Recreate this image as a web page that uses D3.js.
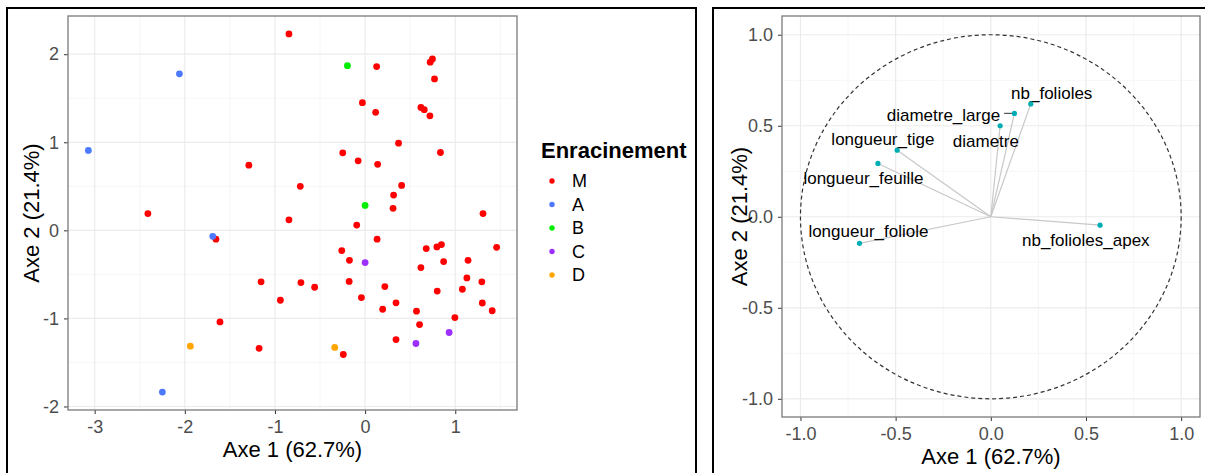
<!DOCTYPE html>
<html>
<head>
<meta charset="utf-8">
<script src="https://cdn.jsdelivr.net/npm/d3@7"></script>
<style>
  body { margin: 0; background: #fff; }
  text { font-family: "Liberation Sans", Arial, sans-serif; }
</style>
</head>
<body>
<svg id="chart" width="1205" height="473"></svg>
<script>
// --- data ---
// individuals: coordinates on axes 1 and 2, with their rooting class
const groupM_x = [-0.845, 0.128, -0.03, 0.117, 0.371, -0.248, -0.077, 0.139, -1.29, -0.719,
  0.405, 0.316, 0.31, -2.41, -0.845, 1.308, -0.093, -1.655, 0.133, -0.259,
  -0.174, 0.747, 0.722, 0.77, 0.619, 0.656, 0.719, 0.836, 0.678, 0.796,
  0.847, 1.459, 0.871, 0.619, 1.142, 1.129, 1.295, 1.079, 0.80, -0.177,
  0.219, -0.041, 0.343, 0.195, 0.57, 1.30, 1.41, 0.996, 0.604, 0.343,
  -0.242, -1.154, -0.712, -0.56, -0.94, -1.61, -1.176];
const groupM_y = [2.23, 1.86, 1.45, 1.34, 0.99, 0.88, 0.79, 0.75, 0.74, 0.50,
  0.51, 0.40, 0.25, 0.19, 0.12, 0.19, 0.06, -0.10, -0.10, -0.23,
  -0.34, 1.947, 1.91, 1.72, 1.395, 1.37, 1.30, 0.884, -0.207, -0.188,
  -0.162, -0.193, -0.355, -0.423, -0.34, -0.54, -0.585, -0.669, -0.69, -0.58,
  -0.638, -0.763, -0.823, -0.896, -0.918, -0.825, -0.913, -0.99, -1.07, -1.24,
  -1.41, -0.585, -0.593, -0.646, -0.794, -1.04, -1.34];
const groupA_x = [-2.06, -3.07, -1.69, -2.249];
const groupA_y = [1.777, 0.907, -0.068, -1.837];
const groupB_x = [-0.196, 0.0];
const groupB_y = [1.87, 0.283];
const groupC_x = [0.0, 0.932, 0.564];
const groupC_y = [-0.366, -1.16, -1.285];
const groupD_x = [-1.939, -0.337];
const groupD_y = [-1.315, -1.33];

const groups = ["M", "A", "B", "C", "D"];
const groupColors = ["#ff0000", "#4d79ff", "#00ee00", "#9b30ff", "#ffa500"];

// variables: correlation circle
const varNames = ["nb_folioles", "diametre_large", "diametre", "longueur_tige",
  "longueur_feuille", "longueur_foliole", "nb_folioles_apex"];
const varX = [0.21, 0.124, 0.049, -0.492, -0.593, -0.69, 0.574];
const varY = [0.62, 0.568, 0.50, 0.366, 0.293, -0.146, -0.046];
// where the repelled labels ended up (data units)
const labelX = [0.32, -0.249, -0.026, -0.567, -0.669, -0.643, 0.499];
const labelY = [0.68, 0.559, 0.418, 0.427, 0.211, -0.079, -0.128];

const xTitle = "Axe 1 (62.7%)";
const yTitle = "Axe 2 (21.4%)";
const legendTitle = "Enracinement";

// --- drawing ---
const svg = d3.select("#chart");
svg.append("rect").attr("width", 1205).attr("height", 473).attr("fill", "#fff");

// outer black frames of the two figures
svg.append("rect").attr("x", 7).attr("y", 8).attr("width", 689).attr("height", 490)
   .attr("fill", "none").attr("stroke", "#000").attr("stroke-width", 2);
svg.append("rect").attr("x", 713).attr("y", 8).attr("width", 520).attr("height", 490)
   .attr("fill", "none").attr("stroke", "#000").attr("stroke-width", 2);

// draws grid, border, axes for one panel and returns the scales
function makePanel(box, xDom, yDom, xMajor, yMajor, xMinor, yMinor, fmt) {
  const x = d3.scaleLinear().domain(xDom).range([box.left, box.right]);
  const y = d3.scaleLinear().domain(yDom).range([box.bottom, box.top]);
  const g = svg.append("g");

  g.append("g").selectAll("line").data(xMinor).enter().append("line")
    .attr("x1", d => x(d)).attr("x2", d => x(d)).attr("y1", box.top).attr("y2", box.bottom)
    .attr("stroke", "#f2f2f2").attr("stroke-width", 0.7);
  g.append("g").selectAll("line").data(yMinor).enter().append("line")
    .attr("y1", d => y(d)).attr("y2", d => y(d)).attr("x1", box.left).attr("x2", box.right)
    .attr("stroke", "#f2f2f2").attr("stroke-width", 0.7);
  g.append("g").selectAll("line").data(xMajor).enter().append("line")
    .attr("x1", d => x(d)).attr("x2", d => x(d)).attr("y1", box.top).attr("y2", box.bottom)
    .attr("stroke", "#ebebeb").attr("stroke-width", 1.2);
  g.append("g").selectAll("line").data(yMajor).enter().append("line")
    .attr("y1", d => y(d)).attr("y2", d => y(d)).attr("x1", box.left).attr("x2", box.right)
    .attr("stroke", "#ebebeb").attr("stroke-width", 1.2);

  const xAxis = d3.axisBottom(x).tickValues(xMajor).tickFormat(fmt).tickSize(4).tickPadding(6);
  const yAxis = d3.axisLeft(y).tickValues(yMajor).tickFormat(fmt).tickSize(4).tickPadding(5);
  [g.append("g").attr("transform", `translate(0,${box.bottom})`).call(xAxis),
   g.append("g").attr("transform", `translate(${box.left},0)`).call(yAxis)].forEach(a => {
    a.select(".domain").remove();
    a.selectAll("line").attr("stroke", "#333");
    a.selectAll("text").attr("fill", "#4d4d4d").style("font-size", "18px")
      .style("font-family", "'Liberation Sans', Arial, sans-serif");
  });

  g.append("rect").attr("x", box.left).attr("y", box.top)
    .attr("width", box.right - box.left).attr("height", box.bottom - box.top)
    .attr("fill", "none").attr("stroke", "#7a7a7a").attr("stroke-width", 1.3);

  g.append("text").attr("x", (box.left + box.right) / 2).attr("y", box.bottom + 47)
    .attr("text-anchor", "middle").style("font-size", "22px").text(xTitle);
  g.append("text")
    .attr("transform", `translate(${box.yTitleX},${(box.top + box.bottom) / 2}) rotate(-90)`)
    .attr("text-anchor", "middle").attr("dy", "0.35em").style("font-size", "22px").text(yTitle);
  return { x, y };
}

// ---- left panel: individuals ----
const fmtInd = d => d3.format("d")(d).replace("−", "-");
const left = makePanel({ left: 68, top: 16, right: 517, bottom: 410, yTitleX: 31 },
  [-3.296, 1.685], [-2.04, 2.434],
  [-3, -2, -1, 0, 1], [-2, -1, 0, 1, 2],
  [-2.5, -1.5, -0.5, 0.5, 1.5], [-1.5, -0.5, 0.5, 1.5],
  fmtInd);

const groupXs = [groupM_x, groupA_x, groupB_x, groupC_x, groupD_x];
const groupYs = [groupM_y, groupA_y, groupB_y, groupC_y, groupD_y];
const points = [];
groups.forEach((gName, i) => {
  groupXs[i].forEach((v, j) => points.push({ g: gName, x: v, y: groupYs[i][j], c: groupColors[i] }));
});
svg.append("g").selectAll("circle").data(points).enter().append("circle")
  .attr("cx", d => left.x(d.x)).attr("cy", d => left.y(d.y)).attr("r", 3.4)
  .attr("fill", d => d.c);

// legend
const lg = svg.append("g").attr("transform", "translate(541,0)");
lg.append("text").attr("x", 0).attr("y", 158).style("font-size", "22px")
  .style("font-weight", "bold").text(legendTitle);
const legY = d3.scalePoint().domain(groups).range([181, 275]);
lg.selectAll("circle").data(groups).enter().append("circle")
  .attr("cx", 11).attr("cy", d => legY(d)).attr("r", 2.7)
  .attr("fill", (d, i) => groupColors[i]);
lg.selectAll("text.key").data(groups).enter().append("text").attr("class", "key")
  .attr("x", 31).attr("y", d => legY(d)).attr("dy", "0.35em")
  .style("font-size", "18px").text(d => d);

// ---- right panel: correlation circle ----
const fmtVar = d => d3.format(".1f")(d).replace("−", "-");
const right = makePanel({ left: 782, top: 16, right: 1200, bottom: 417, yTitleX: 739 },
  [-1.097, 1.099], [-1.1, 1.103],
  [-1, -0.5, 0, 0.5, 1], [-1, -0.5, 0, 0.5, 1],
  [-0.75, -0.25, 0.25, 0.75], [-0.75, -0.25, 0.25, 0.75],
  fmtVar);

svg.append("ellipse")
  .attr("cx", right.x(0)).attr("cy", right.y(0))
  .attr("rx", right.x(1) - right.x(0)).attr("ry", right.y(0) - right.y(1))
  .attr("fill", "none").attr("stroke", "#333").attr("stroke-width", 1.2)
  .attr("stroke-dasharray", "4,3");

const vars = varNames.map((n, i) => ({ n, x: varX[i], y: varY[i], lx: labelX[i], ly: labelY[i] }));
svg.append("g").selectAll("line").data(vars).enter().append("line")
  .attr("x1", right.x(0)).attr("y1", right.y(0))
  .attr("x2", d => right.x(d.x)).attr("y2", d => right.y(d.y))
  .attr("stroke", "#c8c8c8").attr("stroke-width", 1.2);

const labG = svg.append("g");
const labs = labG.selectAll("text").data(vars).enter().append("text")
  .attr("x", d => right.x(d.lx)).attr("y", d => right.y(d.ly)).attr("dy", "0.35em")
  .attr("text-anchor", "middle").style("font-size", "17px").text(d => d.n);

// short leader segment when a label sits far from its point
labs.each(function(d) {
  const b = this.getBBox();
  const px = right.x(d.x), py = right.y(d.y);
  const nx = Math.max(b.x, Math.min(px, b.x + b.width));
  const ny = Math.max(b.y + 3, Math.min(py, b.y + b.height - 3));
  const dist = Math.hypot(px - nx, py - ny);
  if (dist > 10) {
    labG.insert("line", "text").attr("x1", nx + 4).attr("y1", ny).attr("x2", px).attr("y2", py)
      .attr("stroke", "#555").attr("stroke-width", 1.2);
  }
});

svg.append("g").selectAll("circle").data(vars).enter().append("circle")
  .attr("cx", d => right.x(d.x)).attr("cy", d => right.y(d.y)).attr("r", 2.6)
  .attr("fill", "#00adb5");
</script>
</body>
</html>
